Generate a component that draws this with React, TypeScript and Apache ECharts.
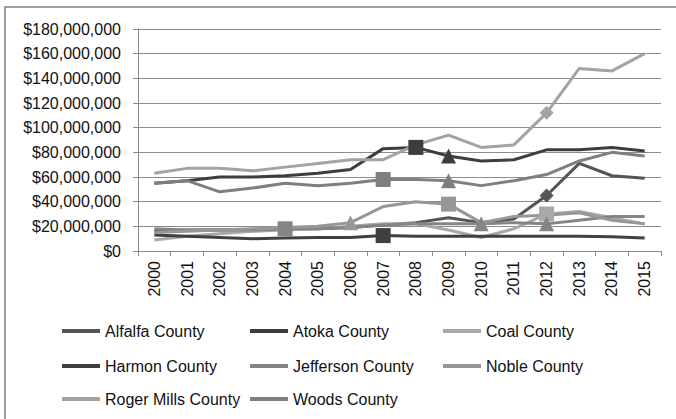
import React, { useEffect, useRef } from "react";
import * as echarts from "echarts";

const years = ["2000","2001","2002","2003","2004","2005","2006","2007","2008","2009","2010","2011","2012","2013","2014","2015"];

const seriesNames = ["Alfalfa County","Atoka County","Coal County","Harmon County","Jefferson County","Noble County","Roger Mills County","Woods County"];

const alfalfa = [16e6, 17e6, 17e6, 17e6, 18e6, 18e6, 19e6, 21e6, 23e6, 27e6, 23e6, 26e6, 45e6, 71e6, 61e6, 59e6];
const atoka = [55e6, 57e6, 60e6, 60e6, 61e6, 63e6, 66e6, 83e6, 84e6, 77e6, 73e6, 74e6, 82e6, 82e6, 84e6, 81e6];
const coal = [9e6, 12e6, 14e6, 16e6, 17e6, 18e6, 20e6, 22e6, 22e6, 17e6, 11e6, 18e6, 30e6, 32e6, 27e6, 22e6];
const harmon = [13e6, 12e6, 11e6, 10e6, 10.5e6, 11e6, 11e6, 12.5e6, 12e6, 12e6, 12e6, 12e6, 12e6, 12e6, 11.5e6, 10.5e6];
const jefferson = [18e6, 17e6, 17e6, 17e6, 18e6, 18e6, 19e6, 21e6, 22e6, 22e6, 22e6, 23e6, 22e6, 25e6, 28e6, 28e6];
const noble = [15e6, 16e6, 17e6, 18e6, 19e6, 20e6, 23e6, 36e6, 40e6, 38e6, 23e6, 28e6, 29e6, 31e6, 25e6, 22e6];
const rogerMills = [63e6, 67e6, 67e6, 65e6, 68e6, 71e6, 74e6, 74e6, 86e6, 94e6, 84e6, 86e6, 112e6, 148e6, 146e6, 160e6];
const woods = [55e6, 57e6, 48e6, 51e6, 55e6, 53e6, 55e6, 58e6, 58e6, 57e6, 53e6, 57e6, 62e6, 73e6, 80e6, 77e6];

// point markers shown on individual years: [year, shape]
const alfalfaMarks = [["2012", "diamond"]];
const atokaMarks = [["2008", "rect"], ["2009", "triangle"]];
const coalMarks = [["2012", "rect"]];
const harmonMarks = [["2007", "rect"]];
const jeffersonMarks = [["2004", "rect"], ["2010", "triangle"], ["2012", "triangle"]];
const nobleMarks = [["2006", "triangle"], ["2009", "rect"]];
const rogerMillsMarks = [["2012", "diamond"]];
const woodsMarks = [["2007", "rect"], ["2009", "triangle"]];

const yTicks = ["$0","$20,000,000","$40,000,000","$60,000,000","$80,000,000","$100,000,000","$120,000,000","$140,000,000","$160,000,000","$180,000,000"];

const FONT = "'Liberation Sans', Arial, sans-serif";

export default function App() {
  const ref = useRef<HTMLDivElement>(null);
  useEffect(() => {
    const chart = echarts.init(ref.current!, null, { renderer: "svg" });
    const values = [alfalfa, atoka, coal, harmon, jefferson, noble, rogerMills, woods];
    const marks = [alfalfaMarks, atokaMarks, coalMarks, harmonMarks, jeffersonMarks, nobleMarks, rogerMillsMarks, woodsMarks];
    const colors = ["#555555", "#3d3d3d", "#a8a8a8", "#404040", "#858585", "#979797", "#a3a3a3", "#7f7f7f"];
    const sizeOf: Record<string, number> = { rect: 15, triangle: 15, diamond: 14 };

    const series = values.map((vals, i) => ({
      name: seriesNames[i],
      type: "line",
      symbol: "none",
      showSymbol: true,
      showAllSymbol: true,
      silent: true,
      z: 2,
      lineStyle: { width: 3, color: colors[i] },
      itemStyle: { color: colors[i] },
      emphasis: { disabled: true },
      data: vals.map((v, j) => {
        const m = marks[i].find((mk) => mk[0] === years[j]);
        if (m) return { value: v, symbol: m[1], symbolSize: sizeOf[m[1]] };
        return { value: v };
      }),
    }));

    const colLeft = [62, 250, 443];
    const rowTop = [323, 358, 391];
    const legends = seriesNames.map((n, i) => ({
      show: true,
      data: [n],
      left: colLeft[i % 3],
      top: rowTop[Math.floor(i / 3)],
      padding: 0,
      icon: "rect",
      itemWidth: 38,
      itemHeight: 4,
      selectedMode: false,
      textStyle: { fontFamily: FONT, fontSize: 16, color: "#111" },
    }));

    chart.setOption({
      animation: false,
      color: colors,
      backgroundColor: "#ffffff",
      grid: { left: 138, right: 15, top: 29, bottom: 168, containLabel: false },
      legend: legends,
      graphic: [
        {
          type: "rect",
          shape: { x: 5, y: 7, width: 720, height: 460 },
          style: { fill: "none", stroke: "#7f7f7f", lineWidth: 1.5 },
          silent: true,
        },
      ],
      xAxis: {
        type: "category",
        data: years,
        boundaryGap: true,
        axisLine: { lineStyle: { color: "#8a8a8a", width: 1 } },
        axisTick: { show: true, length: 5, lineStyle: { color: "#8a8a8a" } },
        axisLabel: { rotate: 90, margin: 10, fontFamily: FONT, fontSize: 16, color: "#111", interval: 0 },
        splitLine: { show: false },
      },
      yAxis: {
        type: "value",
        min: 0,
        max: 180000000,
        interval: 20000000,
        axisLine: { show: true, lineStyle: { color: "#8a8a8a", width: 1 } },
        axisTick: { show: true, length: 5, lineStyle: { color: "#8a8a8a" } },
        axisLabel: {
          margin: 17,
          fontFamily: FONT,
          fontSize: 16,
          color: "#111",
          formatter: (v: number) => yTicks[Math.round(v / 20000000)] ?? "",
        },
        splitLine: { show: true, lineStyle: { color: "#8c8c8c", width: 1 } },
      },
      series,
    });
    return () => chart.dispose();
  }, []);
  return (
    <div
      ref={ref}
      style={{ position: "fixed", left: 0, top: 0, width: 676, height: 419, background: "#fff" }}
    />
  );
}
